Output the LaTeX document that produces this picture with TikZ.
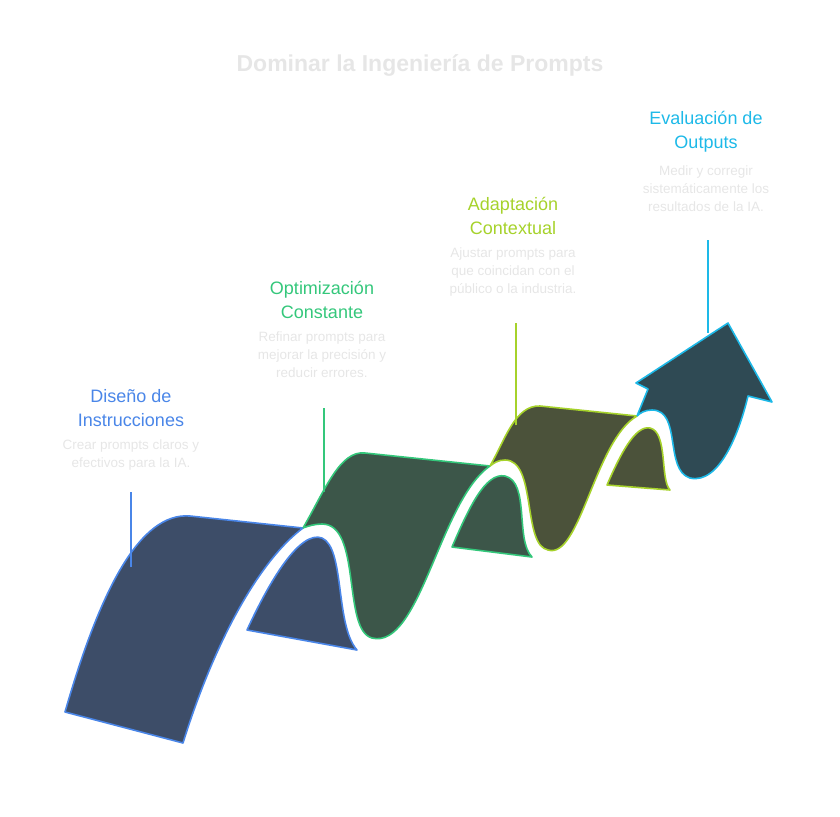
\documentclass[tikz,border=0pt]{standalone}
\usepackage{fontspec}
\setmainfont{Liberation Sans}
\usetikzlibrary{positioning}
\definecolor{cblue}{HTML}{4A86E8}
\definecolor{fblue}{HTML}{3D4D68}
\definecolor{cgreen}{HTML}{34C77B}
\definecolor{fgreen}{HTML}{3C5649}
\definecolor{colive}{HTML}{A6D22B}
\definecolor{folive}{HTML}{4B523A}
\definecolor{ccyan}{HTML}{1DB9E8}
\definecolor{fcyan}{HTML}{2F4A54}
\definecolor{faint}{HTML}{E6E6E6}
\begin{document}
\begin{tikzpicture}[x=1pt,y=-1pt,
    head/.style={align=center,font=\fontsize{18}{24}\selectfont},
    desc/.style={align=center,text=faint,font=\fontsize{13.5}{18}\selectfont},
    band/.style={line width=1.6pt,line join=round}]
 \useasboundingbox (0,0) rectangle (840,816);
 \node[font=\fontsize{23}{26}\selectfont\bfseries,text=faint] (ttl) at (420,66) {Dominar la Ingeniería de Prompts};
 % ribbon pieces
 \draw[band,draw=cblue,fill=fblue] (65,712) .. controls (100,590) and (140,512) .. (190,516)
  -- (303,528) .. controls (260,560) and (215,640) .. (183,743) -- cycle;
 \draw[band,draw=cblue,fill=fblue] (247,630) .. controls (270,580) and (300,530) .. (322,538)
  .. controls (345,548) and (335,625) .. (357,650) -- cycle;
 \draw[band,draw=cgreen,fill=fgreen] (303,528) .. controls (325,490) and (340,450) .. (365,453)
  -- (490,466) .. controls (440,500) and (420,650) .. (372,638)
  .. controls (342,630) and (362,524) .. (322,524) .. controls (315,524) and (308,526) .. (303,528);
 \draw[band,draw=cgreen,fill=fgreen] (452,547) .. controls (468,510) and (485,472) .. (505,476)
  .. controls (530,482) and (515,540) .. (532,557) -- cycle;
 \draw[band,draw=colive,fill=folive] (490,466) .. controls (505,440) and (515,405) .. (540,406)
  -- (637,416) .. controls (595,440) and (580,560) .. (548,550)
  .. controls (522,545) and (537,460) .. (505,460) .. controls (498,460) and (494,463) .. (490,466);
 \draw[band,draw=colive,fill=folive] (607,485) .. controls (620,455) and (635,425) .. (650,428)
  .. controls (668,432) and (660,480) .. (670,490) -- cycle;
 \draw[band,draw=ccyan,fill=fcyan] (637,416) -- (648,389) -- (636,383) -- (728,323) -- (772,402)
  -- (748,396) .. controls (740,430) and (720,485) .. (690,478)
  .. controls (664,470) and (682,410) .. (652,410) .. controls (645,410) and (640,413) .. (637,416);
 % labels
 \node[head,text=cblue] (dis) at (131,408) {Diseño de\\Instrucciones};
 \node[desc,below=6pt of dis] (disd) {Crear prompts claros y\\efectivos para la IA.};
 \node[head,text=cgreen] (opt) at (322,300) {Optimización\\Constante};
 \node[desc,below=6pt of opt] (optd) {Refinar prompts para\\mejorar la precisión y\\reducir errores.};
 \node[head,text=colive] (ada) at (513,216) {Adaptación\\Contextual};
 \node[desc,below=6pt of ada] (adad) {Ajustar prompts para\\que coincidan con el\\público o la industria.};
 \node[head,text=ccyan] (eva) at (706,132) {Evaluación de\\Outputs};
 \node[desc,below=6pt of eva] (evad) {Medir y corregir\\sistemáticamente los\\resultados de la IA.};
 % leaders
 \coordinate (l1) at (131,567); \coordinate (l2) at (324,492);
 \coordinate (l3) at (516,425); \coordinate (l4) at (708,333);
 \draw[cblue,line width=1.2pt] (l1) -- (l1 |- 0,492);
 \draw[cgreen,line width=1.2pt] (l2) -- (l2 |- 0,408);
 \draw[colive,line width=1.2pt] (l3) -- (l3 |- 0,323);
 \draw[ccyan,line width=1.2pt] (l4) -- (l4 |- 0,240);
\end{tikzpicture}
\end{document}
